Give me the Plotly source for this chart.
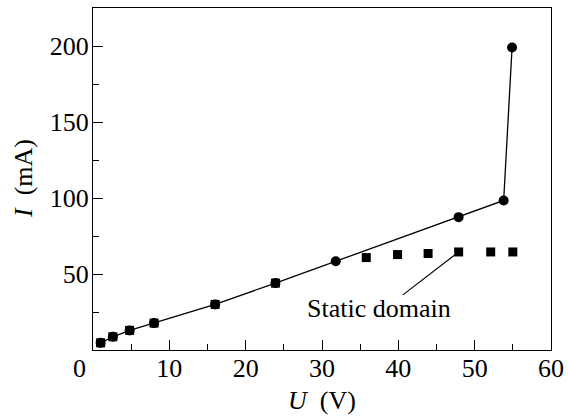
import plotly.graph_objects as go

# Main I-U curve (circles, connected)
U_main = [1.0, 2.6, 4.8, 8.0, 16.0, 23.9, 31.8, 47.9, 53.8, 54.9]
I_main = [4.7, 8.7, 12.9, 17.7, 30.0, 44.0, 58.4, 87.4, 98.4, 199.0]

# Static-domain points (squares)
U_static = [1.0, 2.6, 4.8, 8.0, 16.0, 23.9, 35.8, 39.9, 43.9, 47.9, 52.1, 55.0]
I_static = [4.7, 8.7, 12.9, 17.7, 30.0, 44.0, 60.8, 62.8, 63.5, 64.5, 64.5, 64.5]

x_ticks = [10, 20, 30, 40, 50, 60]
y_ticks = [50, 100, 150, 200]

FONT = "Times New Roman, Liberation Serif, Tinos, serif"
TF = dict(family=FONT, size=26, color="black")

fig = go.Figure()
fig.add_trace(go.Scatter(
    x=U_static, y=I_static, mode="markers",
    marker=dict(symbol="square", size=9, color="black"),
    showlegend=False, hoverinfo="skip", cliponaxis=False))
fig.add_trace(go.Scatter(
    x=U_main, y=I_main, mode="lines+markers",
    line=dict(color="black", width=1.3),
    marker=dict(symbol="circle", size=10, color="black"),
    showlegend=False, hoverinfo="skip", cliponaxis=False))

fig.add_annotation(
    x=47.9, y=64.5, ax=40.4, ay=35.5, xref="x", yref="y", axref="x", ayref="y",
    text="", showarrow=True, arrowhead=0, arrowwidth=1.2, arrowcolor="black")
fig.add_annotation(
    x=37.5, y=27, xref="x", yref="y", text="Static domain", showarrow=False,
    font=TF, yanchor="middle")
fig.add_annotation(
    x=0, y=0, xref="x", yref="paper", text="0", showarrow=False,
    font=TF, xshift=-14, yshift=-18, yanchor="middle")
fig.add_annotation(
    x=0.5, y=0, xref="paper", yref="paper", text="<i>U</i>  (V)",
    showarrow=False, font=TF, yanchor="middle", yshift=-50)
fig.add_annotation(
    x=0, y=0.5, xref="paper", yref="paper", text="<i>I</i>  (mA)",
    showarrow=False, font=TF, xanchor="center", yanchor="middle",
    textangle=-90, xshift=-70)

fig.update_xaxes(
    range=[0, 60], tickvals=x_ticks, ticks="inside", ticklen=10, tickwidth=1.3,
    tickcolor="black", showline=True, linecolor="black", linewidth=1.3,
    mirror=True, showgrid=False, zeroline=False, automargin=False,
    ticklabelstandoff=-5,
    minor=dict(tickvals=[5, 15, 25, 35, 45, 55], ticks="inside", ticklen=6,
               tickcolor="black", tickwidth=1.3),
    tickfont=TF)
fig.update_yaxes(
    range=[0, 225], tickvals=y_ticks, ticks="inside", ticklen=10, tickwidth=1.3,
    tickcolor="black", showline=True, linecolor="black", linewidth=1.3,
    mirror=True, showgrid=False, zeroline=False, automargin=False,
    ticklabelstandoff=-2,
    minor=dict(tickvals=[25, 75, 125, 175], ticks="inside", ticklen=6,
               tickcolor="black", tickwidth=1.3),
    tickfont=TF)

fig.update_layout(
    width=569, height=419,
    margin=dict(l=93, r=18, t=8, b=69),
    plot_bgcolor="white", paper_bgcolor="white",
)

fig.write_html("out.html", config={"displayModeBar": False},
               post_script="document.body.style.margin='0';document.body.style.overflow='hidden';")
